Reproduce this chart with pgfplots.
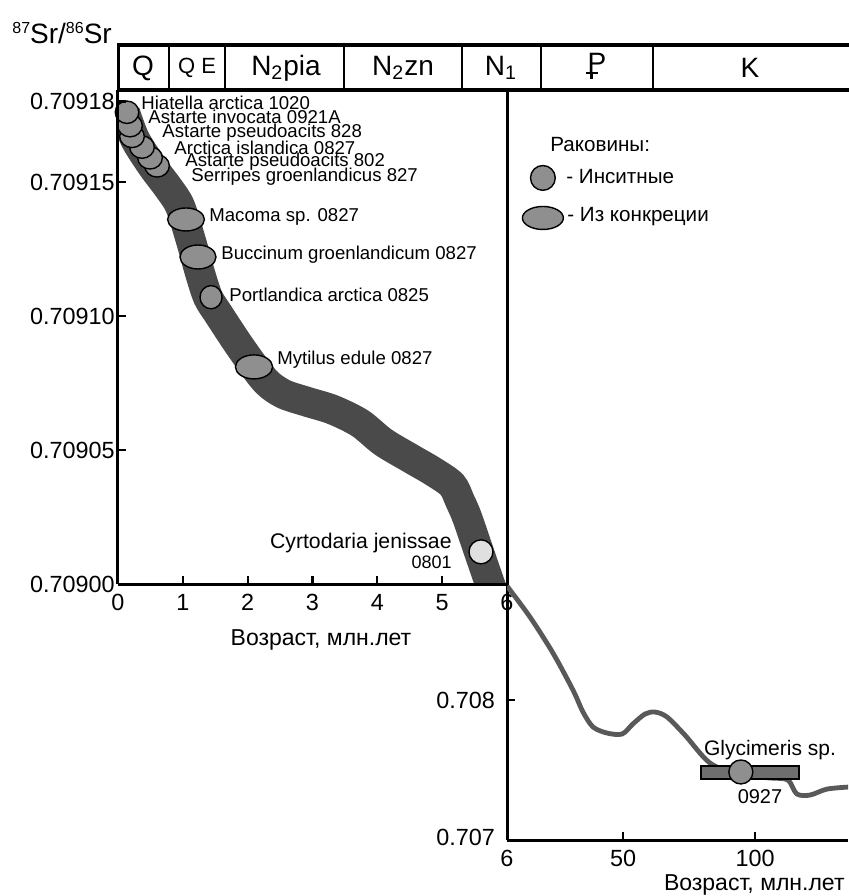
\documentclass[border=0pt]{standalone}
\usepackage{fontspec}
\setmainfont{Liberation Sans}
\usepackage{pgfplots}
\pgfplotsset{compat=1.18}
\definecolor{bandc}{gray}{0.29}
\definecolor{shell}{gray}{0.56}
\definecolor{shelllight}{gray}{0.88}
\definecolor{curvec}{gray}{0.35}
\definecolor{barc}{gray}{0.43}
\newcommand{\lab}{\fontsize{9.3}{11}\selectfont}
\newcommand{\tlf}{\fontsize{11.7}{13}\selectfont}
\newcommand{\sups}[1]{\raisebox{4.6pt}{\fontsize{8}{9}\selectfont #1}}
\newcommand{\paleo}{\makebox[0pt][l]{\kern-0.06em\rule[-0.05em]{0.42em}{0.085em}}\makebox[0pt][l]{\kern0.085em\rule[-0.22em]{0.093em}{0.25em}}P}
\begin{document}
\begin{tikzpicture}
\useasboundingbox (0pt,0pt) rectangle (424pt,-448pt);
\pgfplotsset{common/.style={
  scale only axis, anchor=south west,
  axis x line*=bottom, axis y line*=left,
  axis line style={line width=1.5pt, black},
  every outer x axis line/.append style={line width=1.5pt, black},
  every outer y axis line/.append style={line width=1.5pt, black},
  every inner x axis line/.append style={line width=1.5pt, black},
  every inner y axis line/.append style={line width=1.5pt, black},
  tick style={black, line width=1.1pt},
  tick align=inside, major tick length=4pt,
  ticklabel style={font=\tlf},
  xticklabel style={yshift=-1.5pt},
  /pgf/number format/assume math mode=true,
  clip mode=individual,
}}
% ---------- left axis: 0-6 Ma ----------
\begin{axis}[common,
  at={(59pt,-292pt)}, width=194.5pt, height=247pt,
  xmin=0, xmax=6, ymin=0.709, ymax=0.7091843,
  xtick={0,1,2,3,4,5,6},
  ytick={0.709,0.70905,0.7091,0.70915,0.70918},
  yticklabels={{\tlf 0.70900},{\tlf 0.70905},{\tlf 0.70910},{\tlf 0.70915},{\tlf 0.70918}},
  yticklabel style={inner sep=1.5pt, font=\tlf},
  axis on top,
]
\addplot[color=bandc, line width=15pt, smooth, tension=0.5] coordinates {
(0.108,0.709176)(0.262,0.709166)(0.524,0.709156)(0.771,0.709148)(0.956,0.709141)
(1.126,0.709128)(1.265,0.709116)(1.388,0.709107)(1.542,0.709101)(1.897,0.709088)
(2.267,0.709076)(2.545,0.709071)(2.915,0.709068)(3.316,0.709065)(3.733,0.709060)
(4.088,0.709053)(4.504,0.709047)(4.859,0.709042)(5.152,0.709037)(5.275,0.709031)
(5.383,0.709025)(5.553,0.709013)(5.753,0.708999)(5.923,0.708988)};
% shells
\addplot[only marks, mark=*, mark size=5.6pt, mark options={xscale=1.1, fill=shell, draw=black, line width=0.7pt}] coordinates {(0.602,0.709156)};
\addplot[only marks, mark=*, mark size=5.6pt, mark options={xscale=1.1, fill=shell, draw=black, line width=0.7pt}] coordinates {(0.494,0.709159)};
\addplot[only marks, mark=*, mark size=5.6pt, mark options={xscale=1.1, fill=shell, draw=black, line width=0.7pt}] coordinates {(0.370,0.709163)};
\addplot[only marks, mark=*, mark size=5.6pt, mark options={xscale=1.1, fill=shell, draw=black, line width=0.7pt}] coordinates {(0.216,0.709167)};
\addplot[only marks, mark=*, mark size=5.6pt, mark options={xscale=1.1, fill=shell, draw=black, line width=0.7pt}] coordinates {(0.185,0.709171)};
\addplot[only marks, mark=*, mark size=5.6pt, mark options={xscale=1.05, fill=shell, draw=black, line width=0.7pt}] coordinates {(0.139,0.709176)};
\addplot[only marks, mark=*, mark size=5.75pt, mark options={xscale=1.6, fill=shell, draw=black, line width=0.7pt}] coordinates {(1.049,0.709136)};
\addplot[only marks, mark=*, mark size=6pt, mark options={xscale=1.5, fill=shell, draw=black, line width=0.7pt}] coordinates {(1.234,0.709122)};
\addplot[only marks, mark=*, mark size=5.8pt, mark options={xscale=0.95, fill=shell, draw=black, line width=0.7pt}] coordinates {(1.435,0.709107)};
\addplot[only marks, mark=*, mark size=6pt, mark options={xscale=1.55, fill=shell, draw=black, line width=0.7pt}] coordinates {(2.098,0.709081)};
\addplot[only marks, mark=*, mark size=6pt, mark options={fill=shelllight, draw=black, line width=0.7pt}] coordinates {(5.599,0.709012)};
\end{axis}
% ---------- right axis: 6-135 Ma ----------
\begin{axis}[common,
  at={(253.5pt,-420pt)}, width=170.5pt, height=375pt,
  xmin=6, xmax=135.2, ymin=0.707, ymax=0.712357,
  xtick={6,50,100},
  ytick={0.707,0.708},
  yticklabels={\raisebox{3pt}{0.707},0.708},
  yticklabel style={xshift=-2.5pt},
]
\addplot[color=curvec, line width=2.4pt, smooth, tension=0.5] coordinates {
(6,0.708814)(14.7,0.708593)(23.4,0.708336)(31.0,0.708071)(34.8,0.707914)
(38.6,0.707807)(43.9,0.707764)(49.6,0.707757)(53.7,0.707829)(58.3,0.707900)
(62.1,0.707914)(66.6,0.707879)(73.4,0.707750)(82.9,0.707550)(94.3,0.707464)
(105.7,0.707443)(112.4,0.707429)(115.8,0.707329)(120.8,0.707321)(127.3,0.707364)
(136.0,0.707379)};
\addplot[fill=barc, draw=black, line width=0.6pt] coordinates {(79.5,0.707436)(116.6,0.707436)(116.6,0.707529)(79.5,0.707529)} -- cycle;
\addplot[only marks, mark=*, mark size=6pt, mark options={fill=shell, draw=black, line width=0.7pt}] coordinates {(94.6,0.707486)};
% legend symbols
\addplot[only marks, mark=*, mark size=6.2pt, mark options={fill=shell, draw=black, line width=0.7pt}] coordinates {(19.6,0.711729)};
\addplot[only marks, mark=*, mark size=5.75pt, mark options={xscale=1.78, fill=shell, draw=black, line width=0.7pt}] coordinates {(19.6,0.711443)};
\end{axis}
% ---------- annotations (pixel grid) ----------
\begin{scope}[x=0.5pt, y=-0.5pt]
% header
\draw[line width=1.6pt] (117,45) -- (870,45);
\draw[line width=1.6pt] (117,90) -- (870,90);
\draw[line width=1.5pt] (118,44) -- (118,90);
\foreach \xx in {169,225,344,462,541,653} \draw[line width=1pt] (\xx,45) -- (\xx,90);
\node[font=\fontsize{14}{16}\selectfont] at (143,68) {Q};
\node[font=\fontsize{11}{13}\selectfont] at (197,68) {Q E};
\node[font=\fontsize{14}{16}\selectfont] at (286,68) {N\textsubscript{2}pia};
\node[font=\fontsize{14}{16}\selectfont] at (403,68) {N\textsubscript{2}zn};
\node[font=\fontsize{14}{16}\selectfont] at (501,68) {N\textsubscript{1}};
\node[font=\fontsize{14}{16}\selectfont] at (597,66) {\paleo};
\node[font=\fontsize{14}{16}\selectfont] at (750,68) {K};
\node[anchor=base west, font=\fontsize{14}{16}\selectfont, inner sep=0pt] at (12,43) {\sups{87}Sr/\sups{86}Sr};
% shell labels
\node[anchor=west, inner sep=0pt, font=\lab] at (141,103) {Hiatella arctica 1020};
\node[anchor=west, inner sep=0pt, font=\lab] at (148,117) {Astarte invocata 0921A};
\node[anchor=west, inner sep=0pt, font=\lab] at (162,133) {Astarte pseudoacits 828};
\node[anchor=west, inner sep=0pt, font=\lab] at (174,148) {Arctica islandica 0827};
\node[anchor=west, inner sep=0pt, font=\lab] at (185,162) {Astarte pseudoacits 802};
\node[anchor=west, inner sep=0pt, font=\lab] at (191,177) {Serripes groenlandicus 827};
\node[anchor=west, inner sep=0pt, font=\lab] at (209,217) {Macoma sp. 0827};
\node[anchor=west, inner sep=0pt, font=\lab] at (221,255) {Buccinum groenlandicum 0827};
\node[anchor=west, inner sep=0pt, font=\lab] at (229,295) {Portlandica arctica 0825};
\node[anchor=west, inner sep=0pt, font=\lab] at (277,360) {Mytilus edule 0827};
\node[anchor=east, inner sep=0pt, font=\fontsize{10.6}{12}\selectfont] at (452,543) {Cyrtodaria jenissae};
\node[anchor=east, inner sep=0pt, font=\fontsize{9}{10}\selectfont] at (452,562) {0801};
% legend texts
\node[anchor=west, inner sep=0pt, font=\fontsize{10.3}{12}\selectfont] at (550,145) {Раковины:};
\node[anchor=west, inner sep=0pt, font=\fontsize{10.3}{12}\selectfont] at (566,177) {- Инситные};
\node[anchor=west, inner sep=0pt, font=\fontsize{10.3}{12}\selectfont] at (567,217) {- Из конкреции};
% right plot texts
\node[inner sep=0pt, font=\fontsize{10.5}{12}\selectfont] at (770,750) {Glycimeris sp.};
\node[inner sep=0pt, font=\fontsize{10}{12}\selectfont] at (760,797) {0927};
% axis labels
\node[inner sep=0pt, font=\fontsize{11.5}{13}\selectfont] at (321,640) {Возраст, млн.лет};
\node[anchor=east, inner sep=0pt, font=\fontsize{11.5}{13}\selectfont] at (845,885) {Возраст, млн.лет};
\end{scope}
\end{tikzpicture}
\end{document}
